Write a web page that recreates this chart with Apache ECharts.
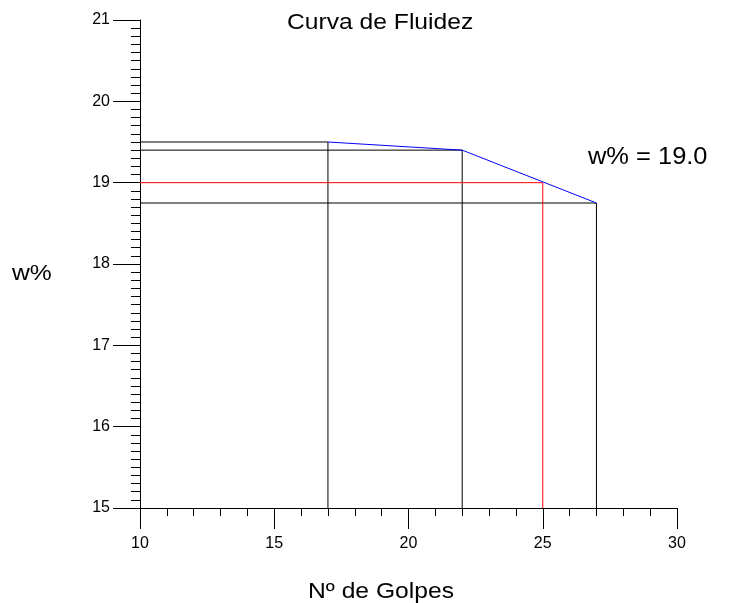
<!DOCTYPE html>
<html>
<head>
<meta charset="utf-8">
<style>
  html, body { margin: 0; padding: 0; background: #fff; }
  #chart { width: 740px; height: 603px; }
</style>
<script src="https://cdn.jsdelivr.net/npm/echarts@6/dist/echarts.min.js"></script>
</head>
<body>
<div id="chart"></div>
<script>
// datos de la curva
const golpes = [17, 22, 27]
const humedad = [19.5, 19.4, 18.75]
const golpesRef = 25
const humedadRef = 19.0
const xMin = 10
const yMin = 15

const font = 'Liberation Sans, Arial, sans-serif'
const chart = echarts.init(document.getElementById('chart'))

// lineas de referencia (horizontal hasta el eje y, vertical hasta el eje x)
const guide = (x, y, color) => ({
  type: 'line',
  data: [[xMin, y], [x, y], [x, yMin]],
  symbol: 'none',
  silent: true,
  lineStyle: { color, width: 1 },
})

const series = golpes.map((g, i) => guide(g, humedad[i], '#000'))
series.push(guide(golpesRef, humedadRef, '#ff0000'))
series.push({
  type: 'line',
  data: golpes.map((g, i) => [g, humedad[i]]),
  symbol: 'none',
  lineStyle: { color: '#0000ff', width: 1 },
  z: 5,
})

// texto un poco ensanchado, como en el original
const label = (text, x, y, size, sx = 1.12) => ({
  type: 'text',
  x,
  y,
  scaleX: sx,
  style: { text, font: size + 'px ' + font, fill: '#000', textVerticalAlign: 'middle' },
})

chart.setOption({
  animation: false,
  grid: { left: 140, top: 20, width: 537, height: 488 },
  xAxis: {
    type: 'value',
    min: 10,
    max: 30,
    interval: 5,
    splitLine: { show: false },
    axisLine: { lineStyle: { color: '#000', width: 1 } },
    axisTick: { length: 21, lineStyle: { color: '#000' } },
    minorTick: { show: true, splitNumber: 5, length: 8, lineStyle: { color: '#000' } },
    axisLabel: { color: '#000', fontSize: 16, fontFamily: font, margin: 28 },
  },
  yAxis: {
    type: 'value',
    min: 15,
    max: 21,
    interval: 1,
    splitLine: { show: false },
    axisLine: { show: true, lineStyle: { color: '#000', width: 1 } },
    axisTick: { show: true, length: 27, lineStyle: { color: '#000' } },
    minorTick: { show: true, splitNumber: 10, length: 9, lineStyle: { color: '#000' } },
    axisLabel: { color: '#000', fontSize: 16, fontFamily: font, margin: 30 },
  },
  graphic: [
    label('Curva de Fluidez', 287, 23, 22),
    label('w%', 12, 274, 22),
    label('Nº de Golpes', 308, 592, 22),
    label('w% = ' + humedadRef.toFixed(1), 588, 157, 24, 1.06),
  ],
  series,
})
</script>
</body>
</html>
